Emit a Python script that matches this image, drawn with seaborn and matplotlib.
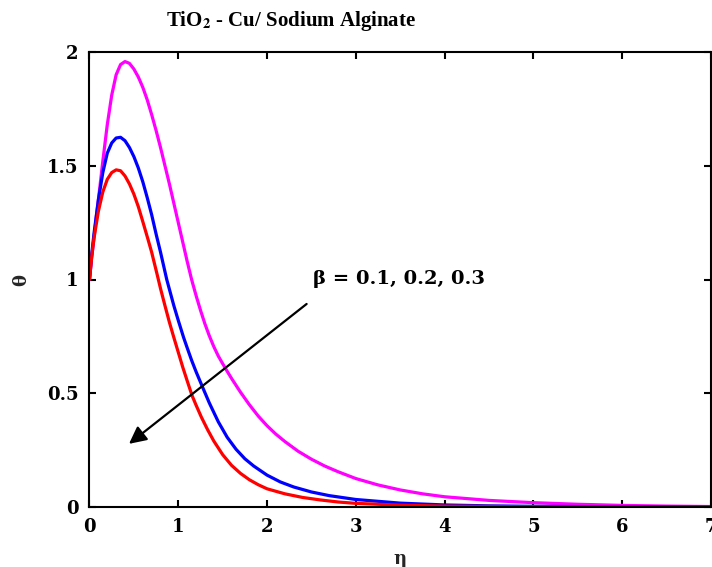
import numpy as np
import pandas as pd
import matplotlib
matplotlib.use("Agg")
import matplotlib.pyplot as plt
import seaborn as sns

sns.set_theme(style="ticks")
plt.rcParams["font.family"] = ["DejaVu Serif"]
plt.rcParams["mathtext.fontset"] = "stix"

# values (eta, theta)
eta_magenta = [0, 0.025, 0.05, 0.075, 0.1, 0.15, 0.2, 0.25, 0.3, 0.35, 0.4, 0.45, 0.5, 0.55,
               0.6, 0.65, 0.7, 0.75, 0.8, 0.85, 0.9, 0.95, 1.0, 1.05, 1.1, 1.15, 1.2, 1.25,
               1.3, 1.35, 1.4, 1.45, 1.5, 1.55, 1.6, 1.7, 1.8, 1.9, 2.0, 2.1, 2.2, 2.35,
               2.5, 2.65, 2.8, 3.0, 3.25, 3.5, 3.75, 4.0, 4.5, 5.0, 5.5, 6.0, 6.5, 7.0]
theta_magenta = [1.0, 1.10, 1.18, 1.27, 1.35, 1.52, 1.68, 1.81, 1.90, 1.945, 1.958, 1.95,
                 1.925, 1.89, 1.845, 1.79, 1.725, 1.655, 1.58, 1.50, 1.42, 1.335, 1.25,
                 1.165, 1.08, 1.0, 0.93, 0.865, 0.805, 0.752, 0.705, 0.664, 0.63, 0.597,
                 0.565, 0.505, 0.45, 0.40, 0.357, 0.32, 0.288, 0.245, 0.21, 0.18, 0.155,
                 0.125, 0.097, 0.075, 0.058, 0.045, 0.029, 0.019, 0.012, 0.007, 0.004, 0.002]

eta_blue = [0, 0.025, 0.05, 0.1, 0.15, 0.2, 0.25, 0.3, 0.35, 0.4, 0.45, 0.5, 0.55, 0.6,
            0.65, 0.7, 0.75, 0.8, 0.87, 0.95, 1.0, 1.06, 1.1, 1.15, 1.2, 1.27, 1.35, 1.45,
            1.55, 1.65, 1.75, 1.85, 2.0, 2.15, 2.3, 2.5, 2.7, 3.0, 3.5, 4.0, 4.5, 5.0,
            6.0, 7.0]
theta_blue = [1.0, 1.11, 1.20, 1.35, 1.47, 1.555, 1.60, 1.622, 1.625, 1.61, 1.58, 1.54,
              1.49, 1.43, 1.36, 1.285, 1.20, 1.12, 1.0, 0.885, 0.82, 0.745, 0.70, 0.645,
              0.595, 0.53, 0.457, 0.375, 0.307, 0.254, 0.212, 0.18, 0.14, 0.11, 0.088,
              0.066, 0.05, 0.033, 0.017, 0.009, 0.005, 0.003, 0.001, 0.0]

eta_red = [0, 0.025, 0.05, 0.1, 0.15, 0.2, 0.25, 0.3, 0.35, 0.4, 0.45, 0.5, 0.55, 0.6,
           0.66, 0.7, 0.76, 0.8, 0.85, 0.9, 0.95, 1.0, 1.05, 1.1, 1.155, 1.2, 1.26, 1.33,
           1.4, 1.5, 1.6, 1.7, 1.8, 1.9, 2.0, 2.2, 2.4, 2.6, 2.8, 3.0, 3.5, 4.0, 5.0, 7.0]
theta_red = [1.0, 1.10, 1.18, 1.30, 1.385, 1.44, 1.47, 1.482, 1.478, 1.455, 1.42, 1.375,
             1.32, 1.255, 1.175, 1.12, 1.025, 0.96, 0.885, 0.812, 0.745, 0.68, 0.615,
             0.555, 0.49, 0.448, 0.395, 0.34, 0.29, 0.23, 0.183, 0.148, 0.12, 0.098, 0.08,
             0.058, 0.042, 0.031, 0.022, 0.016, 0.008, 0.004, 0.001, 0.0]

curves = [
    (eta_magenta, theta_magenta, "#ff00ff"),
    (eta_blue, theta_blue, "#0000ff"),
    (eta_red, theta_red, "#ff0000"),
]

fig = plt.figure(figsize=(7.12, 5.67), dpi=100)
ax = fig.add_axes([89.5 / 712, 60 / 567, 621.5 / 712, 455 / 567])

for eta, theta, color in curves:
    df = pd.DataFrame({"eta": eta, "theta": theta})
    sns.lineplot(data=df, x="eta", y="theta", color=color, linewidth=2.3,
                 sort=False, estimator=None, ax=ax)

ax.set_xlim(0, 7)
ax.set_ylim(0, 2)
ax.set_xticks(range(0, 8))
ax.set_yticks([0, 0.5, 1, 1.5, 2])
ax.set_xticklabels(["0", "1", "2", "3", "4", "5", "6", "7"])
ax.set_yticklabels(["0", "0.5", "1", "1.5", "2"])

for s in ax.spines.values():
    s.set_visible(True)
    s.set_color("black")
    s.set_linewidth(1.5)

ax.tick_params(direction="in", length=5, width=1.5, top=True, right=True,
               labelsize=13, pad=8, colors="black")
for lab in ax.get_xticklabels() + ax.get_yticklabels():
    lab.set_fontweight("bold")

ax.set_xlabel("η", fontsize=13, fontweight="bold")
ax.set_ylabel("θ", fontsize=13, fontweight="bold")
ax.xaxis.set_label_coords(0.5, -0.095)
ax.yaxis.set_label_coords(-0.096, 0.5)

ax.annotate("", xy=(0.42, 0.27), xytext=(2.47, 0.90),
            arrowprops=dict(arrowstyle="-|>", color="black", lw=1.6, mutation_scale=26))
ax.text(2.52, 1.0, "β = 0.1, 0.2, 0.3", fontsize=14, fontweight="bold",
        va="center", ha="left", color="black")

fig.text(291.5 / 712, 1 - 21 / 567, r"TiO$_\mathbf{2}$ - Cu/ Sodium Alginate",
         family="Liberation Serif", fontsize=15, fontweight="bold",
         ha="center", va="center", color="black")

fig.savefig("out.png", dpi=100, facecolor="white")
